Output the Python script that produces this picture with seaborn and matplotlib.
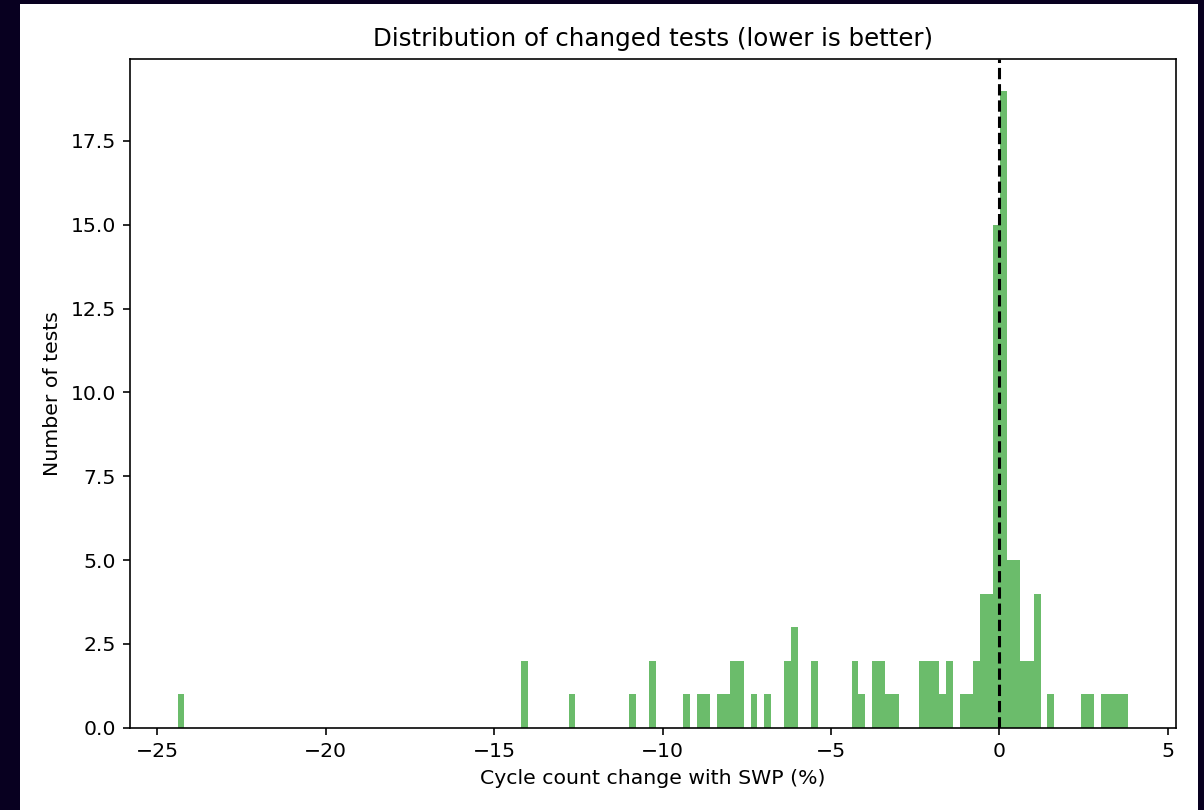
import numpy as np
import matplotlib
matplotlib.use("Agg")
import matplotlib.pyplot as plt
from matplotlib.patches import Rectangle
import seaborn as sns

# bin centres (%) and number of tests per bin
change_pct = [-24.30, -14.09, -12.69, -10.89, -10.29, -9.29, -8.89, -8.69,
              -8.29, -8.09, -7.89, -7.69, -7.29, -6.89, -6.29, -6.09,
              -5.49, -4.29, -4.09, -3.69, -3.49, -3.29, -3.08, -2.28,
              -2.08, -1.88, -1.68, -1.48, -1.08, -0.88, -0.68, -0.48,
              -0.28, -0.08, 0.12, 0.32, 0.52, 0.72, 0.92, 1.12,
              1.52, 2.52, 2.72, 3.12, 3.32, 3.52, 3.72]
n_tests = [1, 2, 1, 1, 2, 1, 1, 1,
           1, 1, 2, 2, 1, 1, 2, 3,
           2, 2, 1, 2, 2, 1, 1, 2,
           2, 2, 1, 2, 1, 1, 2, 4,
           4, 15, 19, 5, 5, 2, 2, 4,
           1, 1, 1, 1, 1, 1, 1]
n_bins = 141
data_range = (-24.40, 3.82)

dpi = 147
fig = plt.figure(figsize=(1204 / dpi, 810 / dpi), dpi=dpi, facecolor="#080020")
fig.patches.append(Rectangle((20 / 1204, 0), 1178 / 1204, 806 / 810,
                             transform=fig.transFigure, facecolor="white",
                             edgecolor="none", zorder=-1))

ax = fig.add_axes([0.1080, 0.1016, 0.8685, 0.8259])

sns.histplot(x=change_pct, weights=n_tests, bins=n_bins, binrange=data_range,
             color="tab:green", alpha=0.7, linewidth=0, ax=ax)

ax.axvline(0, color="black", linestyle="--")

ax.set_title("Distribution of changed tests (lower is better)")
ax.set_xlabel("Cycle count change with SWP (%)")
ax.set_ylabel("Number of tests")

fig.savefig("out.png", dpi=dpi, facecolor=fig.get_facecolor())
